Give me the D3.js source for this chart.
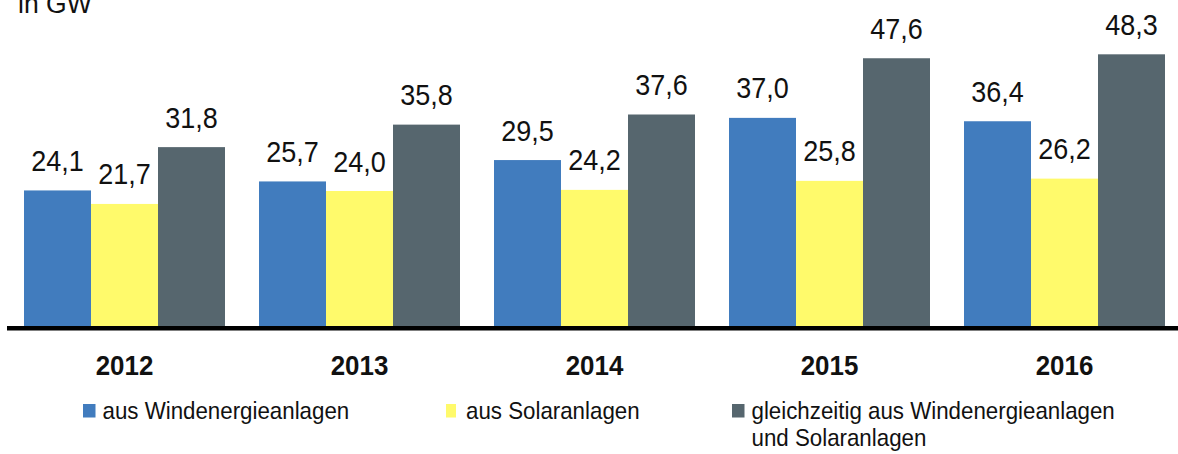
<!DOCTYPE html>
<html>
<head>
<meta charset="utf-8">
<script src="https://cdn.jsdelivr.net/npm/d3@7"></script>
<style>
  html, body { margin: 0; padding: 0; background: #fff; }
  svg { display: block; }
  text { font-family: "Liberation Sans", Arial, sans-serif; fill: #111; }
</style>
</head>
<body>
<svg id="chart" width="1178" height="454"></svg>
<script>
const years = ["2012", "2013", "2014", "2015", "2016"];
const seriesNames = ["aus Windenergieanlagen", "aus Solaranlagen", "gleichzeitig aus Windenergieanlagen und Solaranlagen"];
const wind = [24.1, 25.7, 29.5, 37.0, 36.4];
const solar = [21.7, 24.0, 24.2, 25.8, 26.2];
const both = [31.8, 35.8, 37.6, 47.6, 48.3];
const colors = ["#417CBE", "#FFFA6B", "#56666E"];
const unitLabel = "in GW";

const seriesValues = [wind, solar, both];
const svg = d3.select("#chart");

const baseY = 326;
const y = d3.scaleLinear().domain([0, 50]).range([baseY, baseY - 50 * 5.625]);
const x0 = d3.scaleBand().domain(years).range([24, 1165]).paddingInner(34 / 235).paddingOuter(0);
const x1 = d3.scaleBand().domain(d3.range(seriesNames.length)).range([0, x0.bandwidth()]).padding(0);

const fmt = v => v.toFixed(1).replace(".", ",");

// unit label
svg.append("text")
  .attr("transform", "translate(18,13) scale(0.95,1)")
  .attr("font-size", 28)
  .text(unitLabel);

// bars
const groups = svg.append("g").selectAll("g")
  .data(years)
  .join("g")
  .attr("transform", d => `translate(${x0(d)},0)`);

groups.selectAll("rect")
  .data((d, i) => seriesValues.map((s, k) => ({ k, v: s[i] })))
  .join("rect")
  .attr("x", d => x1(d.k))
  .attr("y", d => y(d.v))
  .attr("width", x1.bandwidth())
  .attr("height", d => baseY - y(d.v))
  .attr("fill", d => colors[d.k]);

// value labels
groups.selectAll("text")
  .data((d, i) => seriesValues.map((s, k) => ({ k, v: s[i] })))
  .join("text")
  .attr("transform", d => `translate(${x1(d.k) + x1.bandwidth() / 2},${y(d.v) - 19.5}) scale(0.9,1)`)
  .attr("text-anchor", "middle")
  .attr("font-size", 30)
  .text(d => fmt(d.v));

// baseline axis
svg.append("line")
  .attr("x1", 7).attr("x2", 1178)
  .attr("y1", 328.2).attr("y2", 328.2)
  .attr("stroke", "#000")
  .attr("stroke-width", 4.5);

// year labels
svg.append("g").selectAll("text")
  .data(years)
  .join("text")
  .attr("transform", d => `translate(${x0(d) + x0.bandwidth() / 2},375) scale(0.96,1)`)
  .attr("text-anchor", "middle")
  .attr("font-size", 27)
  .attr("font-weight", "bold")
  .text(d => d);

// legend
const legendX = [83, 446, 732];
const legend = svg.append("g");
seriesNames.forEach((name, k) => {
  legend.append("rect")
    .attr("x", legendX[k]).attr("y", 404)
    .attr("width", k === 1 ? 10 : 12.5).attr("height", 13.5)
    .attr("fill", colors[k]);
  const lines = k === 2 ? ["gleichzeitig aus Windenergieanlagen", "und Solaranlagen"] : [name];
  lines.forEach((ln, j) => {
    legend.append("text")
      .attr("transform", `translate(${legendX[k] + (k === 1 ? 20 : 19.5)},${419 + j * 27}) scale(0.93,1)`)
      .attr("font-size", 24)
      .text(ln);
  });
});
</script>
</body>
</html>
